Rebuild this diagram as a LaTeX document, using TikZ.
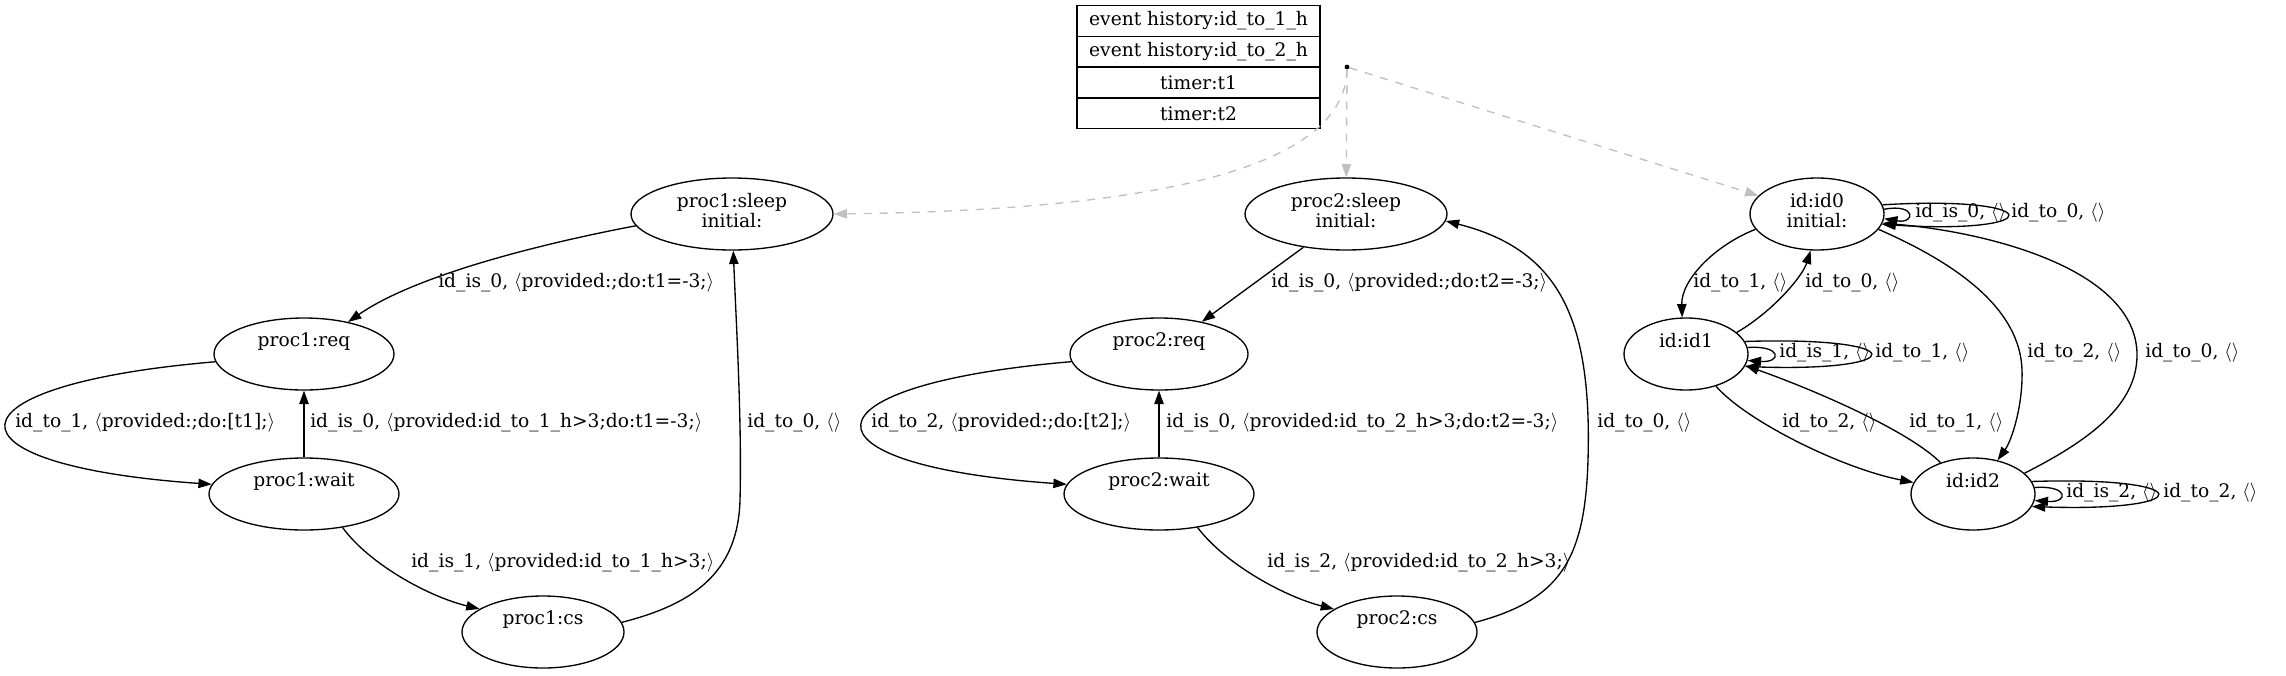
\documentclass[tikz,border=0pt]{standalone}
\usepackage{fontspec}
\setmainfont{DejaVu Serif}
\usetikzlibrary{shapes.geometric,arrows.meta}
\definecolor{initgray}{HTML}{C0C0C0}
\newcommand\tailrule{\rule[-6pt]{0pt}{6pt}}
\newcommand\myl{$\langle$}
\newcommand\myr{$\rangle$}
\begin{document}
\begin{tikzpicture}[x=0.75pt,y=-0.75pt,
  every node/.style={font=\fontsize{14}{15}\selectfont},
  st/.style={ellipse, draw, line width=1pt, inner sep=0pt, minimum height=54pt, align=center},
  lbl/.style={anchor=west, inner sep=0pt},
  edge/.style={line width=1pt, -{Triangle[length=10pt,width=7pt]}},
  initedge/.style={line width=1pt, draw=initgray, dash pattern=on 6pt off 6pt, -{Triangle[length=10pt,width=7pt,fill=initgray]}},
  cell/.style={draw, line width=1pt, minimum width=182.25pt, minimum height=23.1pt, inner sep=0pt}]
\path[fill=white] (0,0) rectangle (2286,675);
\useasboundingbox (0,0) rectangle (2286,675);

% table
\node[cell] (t1) at (1198.5,20.9) {event history:id\_to\_1\_h};
\node[cell] (t2) at (1198.5,51.7) {event history:id\_to\_2\_h};
\node[cell] (t3) at (1198.5,82.5) {timer:t1};
\node[cell] (t4) at (1198.5,113.3) {timer:t2};

% initial dot
\node[circle, fill, inner sep=0pt, minimum size=3.6pt] (dot) at (1347,67) {};

% proc1
\node[st, minimum width=151.5pt] (S1) at (732,214) {proc1:sleep\\initial:\tailrule};
\node[st, minimum width=135pt] (R1) at (304,354) {proc1:req\\\tailrule};
\node[st, minimum width=142.5pt] (W1) at (304,494) {proc1:wait\\\tailrule};
\node[st, minimum width=121.5pt] (C1) at (543,632) {proc1:cs\\\tailrule};

% proc2
\node[st, minimum width=151.5pt] (S2) at (1346,214) {proc2:sleep\\initial:\tailrule};
\node[st, minimum width=133.5pt] (R2) at (1159,354) {proc2:req\\\tailrule};
\node[st, minimum width=142.5pt] (W2) at (1159,494) {proc2:wait\\\tailrule};
\node[st, minimum width=120pt] (C2) at (1397,632) {proc2:cs\\\tailrule};

% id
\node[st, minimum width=100.5pt] (I0) at (1817,214) {id:id0\\initial:\tailrule};
\node[st, minimum width=93pt] (I1) at (1686,354) {id:id1\\\tailrule};
\node[st, minimum width=93pt] (I2) at (1973,494) {id:id2\\\tailrule};

% initial edges
\draw[initedge] (dot) .. controls (1345,170) and (1150,210) .. (S1.east);
\draw[initedge] (dot) -- (S2);
\draw[initedge] (dot) -- (I0);

% proc1 edges
\draw[edge] (S1.187) .. controls (560,240) and (420,272) .. (R1.36);
\draw[edge] (R1.185) .. controls (-60,385) and (-65,465) .. (W1.174);
\draw[edge] (W1) -- (R1);
\draw[edge] (W1.-41) .. controls (370,565) and (430,597) .. (C1.160);
\draw[edge] (C1.7) .. controls (690,605) and (738,575) .. (740,500) .. controls (742,420) and (736,320) .. (S1.-88);

\node[lbl] (l1) at (438,283) {id\_is\_0, \myl provided:;do:t1=-3;\myr};
\node[lbl] (l2) at (15,423) {id\_to\_1, \myl provided:;do:[t1];\myr};
\node[lbl] (l3) at (310,423) {id\_is\_0, \myl provided:id\_to\_1\_h>3;do:t1=-3;\myr};
\node[lbl] (l4) at (411,563) {id\_is\_1, \myl provided:id\_to\_1\_h>3;\myr};
\node[lbl] (l5) at (747,423) {id\_to\_0, \myl\myr};

% proc2 edges
\draw[edge] (S2.218) -- (R2.37);
\draw[edge] (R2.185) .. controls (796,385) and (791,465) .. (W2.174);
\draw[edge] (W2) -- (R2);
\draw[edge] (W2.-41) .. controls (1226,565) and (1286,597) .. (C2.160);
\draw[edge] (C2.7) .. controls (1560,600) and (1585,560) .. (1588,460) .. controls (1592,320) and (1560,250) .. (S2.-4);

\node[lbl] (l6) at (1271,283) {id\_is\_0, \myl provided:;do:t2=-3;\myr};
\node[lbl] (l7) at (871,423) {id\_to\_2, \myl provided:;do:[t2];\myr};
\node[lbl] (l8) at (1166,423) {id\_is\_0, \myl provided:id\_to\_2\_h>3;do:t2=-3;\myr};
\node[lbl] (l9) at (1267,563) {id\_is\_2, \myl provided:id\_to\_2\_h>3;\myr};
\node[lbl] (l10) at (1597,423) {id\_to\_0, \myl\myr};

% id edges
\draw[edge] (I0.194) .. controls (1715,245) and (1681,280) .. (I1.96);
\draw[edge] (I1.23) .. controls (1775,310) and (1803,275) .. (I0.-100);
\draw[edge] (I0.-14) .. controls (1960,265) and (2020,310) .. (2022,370) .. controls (2023,405) and (2012,440) .. (I2.54);
\draw[edge] (I2.22) .. controls (2090,440) and (2137,405) .. (2137,355) .. controls (2137,270) and (1990,232) .. (I0.-8);
\draw[edge] (I1.-47) .. controls (1745,420) and (1840,468) .. (I2.169);
\draw[edge] (I2.136) .. controls (1910,432) and (1820,392) .. (I1.-11);

% self loops
\draw[edge] (I0.4) .. controls (1916,203) and (1916,224) .. (I0.-4);
\draw[edge] (I0.8) .. controls (2049,195) and (2049,235) .. (I0.-9);
\draw[edge] (I1.6) .. controls (1782,345) and (1782,363) .. (I1.-6);
\draw[edge] (I1.12) .. controls (1912,336) and (1912,372) .. (I1.-12);
\draw[edge] (I2.6) .. controls (2069,485) and (2069,503) .. (I2.-6);
\draw[edge] (I2.12) .. controls (2199,476) and (2199,512) .. (I2.-12);

\node[lbl] (l11) at (1693,283) {id\_to\_1, \myl\myr};
\node[lbl] (l12) at (1805,283) {id\_to\_0, \myl\myr};
\node[lbl] (l13) at (2027,353) {id\_to\_2, \myl\myr};
\node[lbl] (l14) at (2145,353) {id\_to\_0, \myl\myr};
\node[lbl] (l15) at (1782,423) {id\_to\_2, \myl\myr};
\node[lbl] (l16) at (1909,423) {id\_to\_1, \myl\myr};
\node[lbl] (l17) at (1915,213) {id\_is\_0, \myl\myr};
\node[lbl] (l18) at (2011,213) {id\_to\_0, \myl\myr};
\node[lbl] (l19) at (1779,353) {id\_is\_1, \myl\myr};
\node[lbl] (l20) at (1875,353) {id\_to\_1, \myl\myr};
\node[lbl] (l21) at (2066,493) {id\_is\_2, \myl\myr};
\node[lbl] (l22) at (2163,493) {id\_to\_2, \myl\myr};
\end{tikzpicture}
\end{document}
